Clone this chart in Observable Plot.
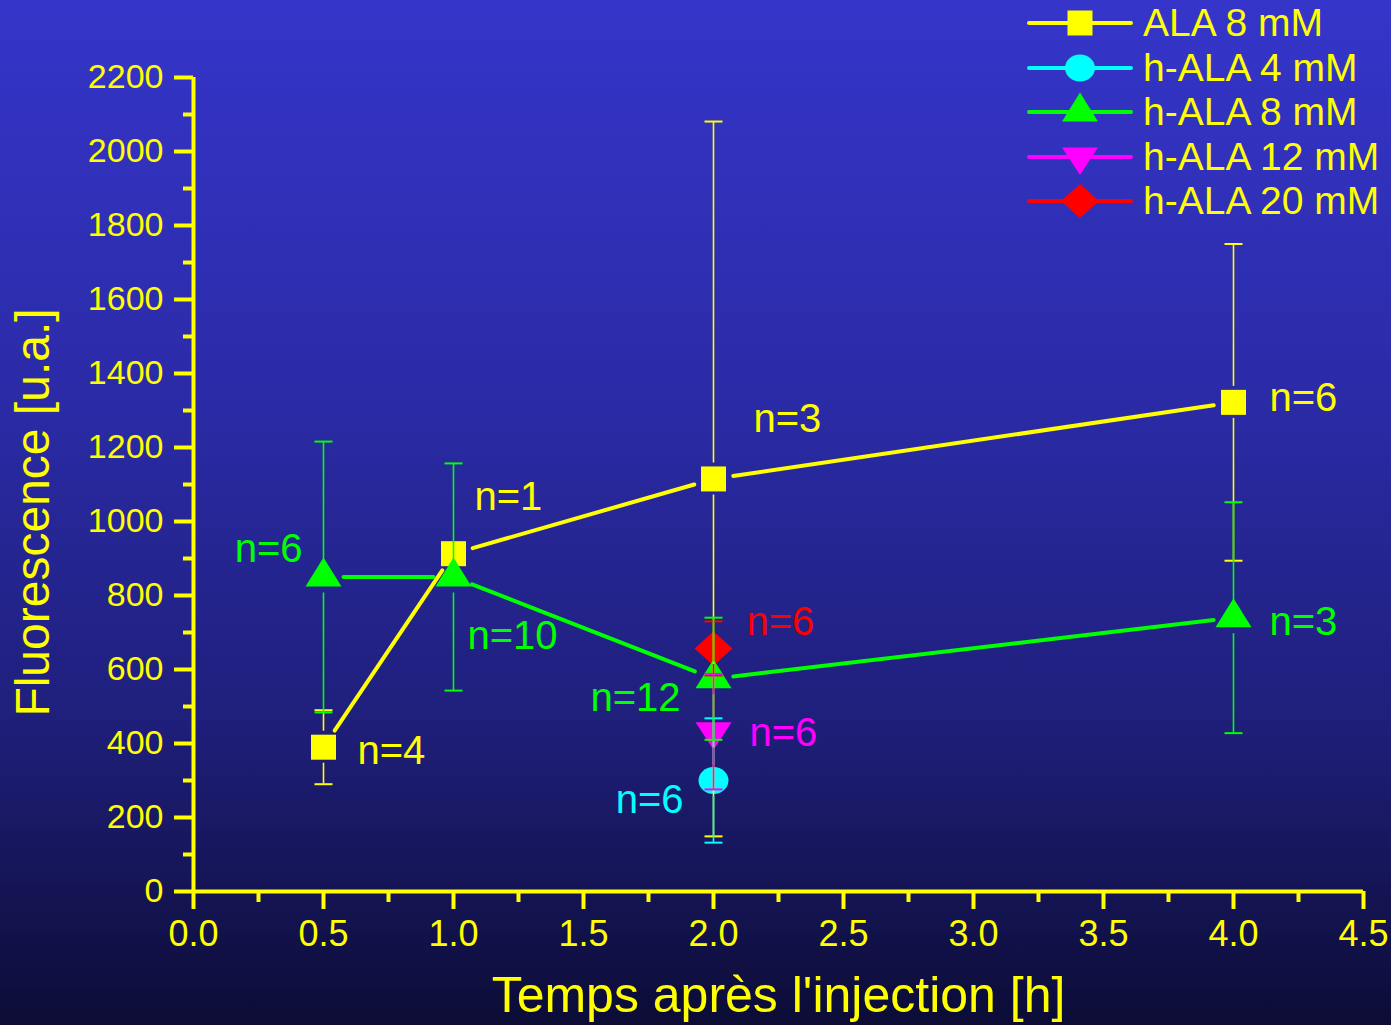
<!DOCTYPE html>
<html><head><meta charset="utf-8">
<script src="https://cdn.jsdelivr.net/npm/d3@7"></script>
<script src="https://cdn.jsdelivr.net/npm/@observablehq/plot@0.6"></script>
<style>
body{margin:0;}
#wrap{position:relative;width:1391px;height:1025px;overflow:hidden;
background:linear-gradient(to bottom,#3535ca 0%,#2b2ba8 38%,#1f1f7c 70%,#0c0c36 100%);
font-family:"Liberation Sans",Arial,sans-serif;}
.row{position:absolute;left:1027px;height:44px;display:flex;align-items:center;color:#ffff00;font-size:39px;white-space:nowrap;line-height:44px}
.row svg{display:block;margin-right:10px}
</style></head><body><div id="wrap"></div>
<script>
// ---------------- data ----------------
const times = [0.5, 1.0, 2.0, 4.0];
const ala8 = [390, 913, 1115, 1322];
const ala8Err = [100, null, 966, 428];
const ala8N = [4, 1, 3, 6];

const hala4Times = [2.0];
const hala4 = [300];
const hala4Err = [168];
const hala4N = [6];

const hala8 = [850, 850, 575, 740];
const hala8Err = [366, 307, 165, 312];
const hala8N = [6, 10, 12, 3];

const hala12Times = [2.0];
const hala12 = [432];
const hala12Err = [156];
const hala12N = [6];

const hala20Times = [2.0];
const hala20 = [657];
const hala20Err = [73];
const hala20N = [6];

const seriesNames = ["ALA 8 mM", "h-ALA 4 mM", "h-ALA 8 mM", "h-ALA 12 mM", "h-ALA 20 mM"];
const yTicks = d3.range(0, 2201, 200);
const yMinor = d3.range(100, 2200, 200);
const xTicks = d3.range(0, 9.1, 1).map(d => d / 2);
const xMinor = d3.range(0, 9, 1).map(d => d / 2 + 0.25);

// ---------------- styles ----------------
const YEL = "#ffff00", CYAN = "#00ffff", GREEN = "#00ff00", MAG = "#ff00ff", RED = "#ff0000";
const FONT = "'Liberation Sans', Arial, Helvetica, sans-serif";

function ellipse(c, rx, ry) {
  const k = 0.5523;
  c.moveTo(rx, 0);
  c.bezierCurveTo(rx, k * ry, k * rx, ry, 0, ry);
  c.bezierCurveTo(-k * rx, ry, -rx, k * ry, -rx, 0);
  c.bezierCurveTo(-rx, -k * ry, -k * rx, -ry, 0, -ry);
  c.bezierCurveTo(k * rx, -ry, rx, -k * ry, rx, 0);
  c.closePath();
}
const symSquare = {draw(c) { c.rect(-12.5, -12.5, 25, 25); }};
const symCircle = {draw(c) { ellipse(c, 15, 13.5); }};
const symUp = {draw(c) { c.moveTo(0, -19.5); c.lineTo(18, 9.5); c.lineTo(-18, 9.5); c.closePath(); }};
const symDown = {draw(c) { c.moveTo(0, 18); c.lineTo(18, -9.5); c.lineTo(-18, -9.5); c.closePath(); }};
const symDiamond = {draw(c) { c.moveTo(0, -17); c.lineTo(19, 0); c.lineTo(0, 17); c.lineTo(-19, 0); c.closePath(); }};
const symCap = {draw(c) { c.moveTo(-9, 0); c.lineTo(9, 0); }};

const series = [
  {name: seriesNames[0], t: times, v: ala8, e: ala8Err, n: ala8N, color: YEL, sym: symSquare,
   lab: [[34, 4, "start"], [21, -57, "start"], [40, -60, "start"], [36, -4, "start"]]},
  {name: seriesNames[1], t: hala4Times, v: hala4, e: hala4Err, n: hala4N, color: CYAN, sym: symCircle,
   lab: [[-30, 20, "end"]]},
  {name: seriesNames[2], t: times, v: hala8, e: hala8Err, n: hala8N, color: GREEN, sym: symUp,
   lab: [[-21, -28, "end"], [14, 59, "start"], [-33, 19, "end"], [36, 4, "start"]]},
  {name: seriesNames[3], t: hala12Times, v: hala12, e: hala12Err, n: hala12N, color: MAG, sym: symDown,
   lab: [[36, 2, "start"]]},
  {name: seriesNames[4], t: hala20Times, v: hala20, e: hala20Err, n: hala20N, color: RED, sym: symDiamond,
   lab: [[33, -26, "start"]]}
];

// ---------------- layout ----------------
const W = 1391, H = 1025, ML = 193, MR = 28, MT = 77, MB = 134;
const xDomain = [0, 4.5], yDomain = [0, 2200];
const sx = Plot.scale({x: {domain: xDomain, range: [ML, W - MR]}});
const sy = Plot.scale({y: {domain: yDomain, range: [H - MB, MT]}});

const pts = s => s.t.map((t, i) => ({x: t, y: s.v[i], e: s.e[i], n: s.n[i], i}));

// line segments with gaps around the symbols (as in the original software)
function gapSegments(s, g) {
  const p = pts(s), out = [];
  for (let i = 0; i < p.length - 1; i++) {
    const ax = sx.apply(p[i].x), ay = sy.apply(p[i].y);
    const bx = sx.apply(p[i + 1].x), by = sy.apply(p[i + 1].y);
    const L = Math.hypot(bx - ax, by - ay);
    if (L <= 2 * g) continue;
    const ux = (bx - ax) / L, uy = (by - ay) / L;
    out.push({
      x1: sx.invert(ax + ux * g), y1: sy.invert(ay + uy * g),
      x2: sx.invert(bx - ux * g), y2: sy.invert(by - uy * g)
    });
  }
  return out;
}
// error bars with gaps around the symbol
function errSegments(s, g) {
  const out = [];
  for (const d of pts(s)) {
    if (d.e == null) continue;
    const cy = sy.apply(d.y);
    out.push({x: d.x, y1: sy.invert(cy - g), y2: d.y + d.e});
    out.push({x: d.x, y1: d.y - d.e, y2: sy.invert(cy + g)});
  }
  return out;
}
function caps(s) {
  const out = [];
  for (const d of pts(s)) {
    if (d.e == null) continue;
    out.push({x: d.x, y: d.y + d.e}, {x: d.x, y: d.y - d.e});
  }
  return out;
}

const markerOrder = [0, 1, 3, 4, 2].map(i => series[i]);
const lineOrder = [2, 0].map(i => series[i]);
const errOrder = [0, 1, 4, 3, 2].map(i => series[i]);

const marks = [];
// axes
marks.push(Plot.axisY({ticks: yMinor, tickSize: 10, strokeWidth: 4, tickFormat: () => "", label: null}));
marks.push(Plot.axisY({ticks: yTicks, tickSize: 19, tickPadding: 11, strokeWidth: 4, fontSize: 34,
  tickFormat: d => String(d), label: null}));
marks.push(Plot.axisX({ticks: xMinor, tickSize: 11, strokeWidth: 4, tickFormat: () => "", label: null}));
marks.push(Plot.axisX({ticks: xTicks, tickSize: 18, tickPadding: 11, strokeWidth: 4, fontSize: 36,
  tickFormat: d3.format(".1f"), label: null}));
marks.push(Plot.ruleX([0], {stroke: YEL, strokeWidth: 4}));
marks.push(Plot.ruleY([0], {stroke: YEL, strokeWidth: 4}));

// symbols
for (const s of markerOrder) {
  marks.push(Plot.dot(pts(s), {x: "x", y: "y", symbol: s.sym, r: 15, fill: s.color, stroke: "none"}));
}
// connecting lines
for (const s of lineOrder) {
  marks.push(Plot.link(gapSegments(s, 20), {x1: "x1", y1: "y1", x2: "x2", y2: "y2",
    stroke: s.color, strokeWidth: 4, strokeLinecap: "round"}));
}
// error bars
for (const s of errOrder) {
  marks.push(Plot.ruleX(errSegments(s, 16), {x: "x", y1: "y1", y2: "y2", stroke: s.color, strokeWidth: 1.6}));
  marks.push(Plot.dot(caps(s), {x: "x", y: "y", symbol: symCap, r: 9, stroke: s.color, strokeWidth: 2, fill: "none"}));
}
// n= labels
for (const s of series) {
  pts(s).forEach((d, i) => {
    const [dx, dy, anchor] = s.lab[i];
    marks.push(Plot.text([d], {x: "x", y: "y", text: d => "n=" + d.n, dx, dy, textAnchor: anchor,
      lineAnchor: "middle", fill: s.color, fontSize: 40}));
  });
}
// axis titles
marks.push(Plot.text(["Fluorescence [u.a.]"], {frameAnchor: "left", rotate: -90, dx: -160, dy: 28,
  textAnchor: "middle", lineAnchor: "middle", fill: YEL, fontSize: 48}));
marks.push(Plot.text(["Temps après l'injection [h]"], {frameAnchor: "bottom", dy: 104,
  textAnchor: "middle", lineAnchor: "middle", fill: YEL, fontSize: 50}));

const chart = Plot.plot({
  width: W, height: H,
  marginLeft: ML, marginRight: MR, marginTop: MT, marginBottom: MB,
  x: {domain: xDomain},
  y: {domain: yDomain},
  style: {background: "transparent", fontFamily: FONT, color: YEL, overflow: "visible"},
  marks
});
const wrap = document.getElementById("wrap");
wrap.appendChild(chart);

// legend (top right, inside the chart area)
series.forEach((s, i) => {
  const row = document.createElement("div");
  row.className = "row";
  row.style.top = (23 + i * 44.5 - 22) + "px";
  const p = d3.path();
  s.sym.draw(p);
  row.innerHTML =
    `<svg width="106" height="44" viewBox="0 0 106 44">` +
    `<line x1="2" x2="104" y1="22" y2="22" stroke="${s.color}" stroke-width="4" stroke-linecap="round"/>` +
    `<path transform="translate(53,22)" d="${p.toString()}" fill="${s.color}"/></svg>` +
    `<span>${s.name}</span>`;
  wrap.appendChild(row);
});
</script></body></html>
